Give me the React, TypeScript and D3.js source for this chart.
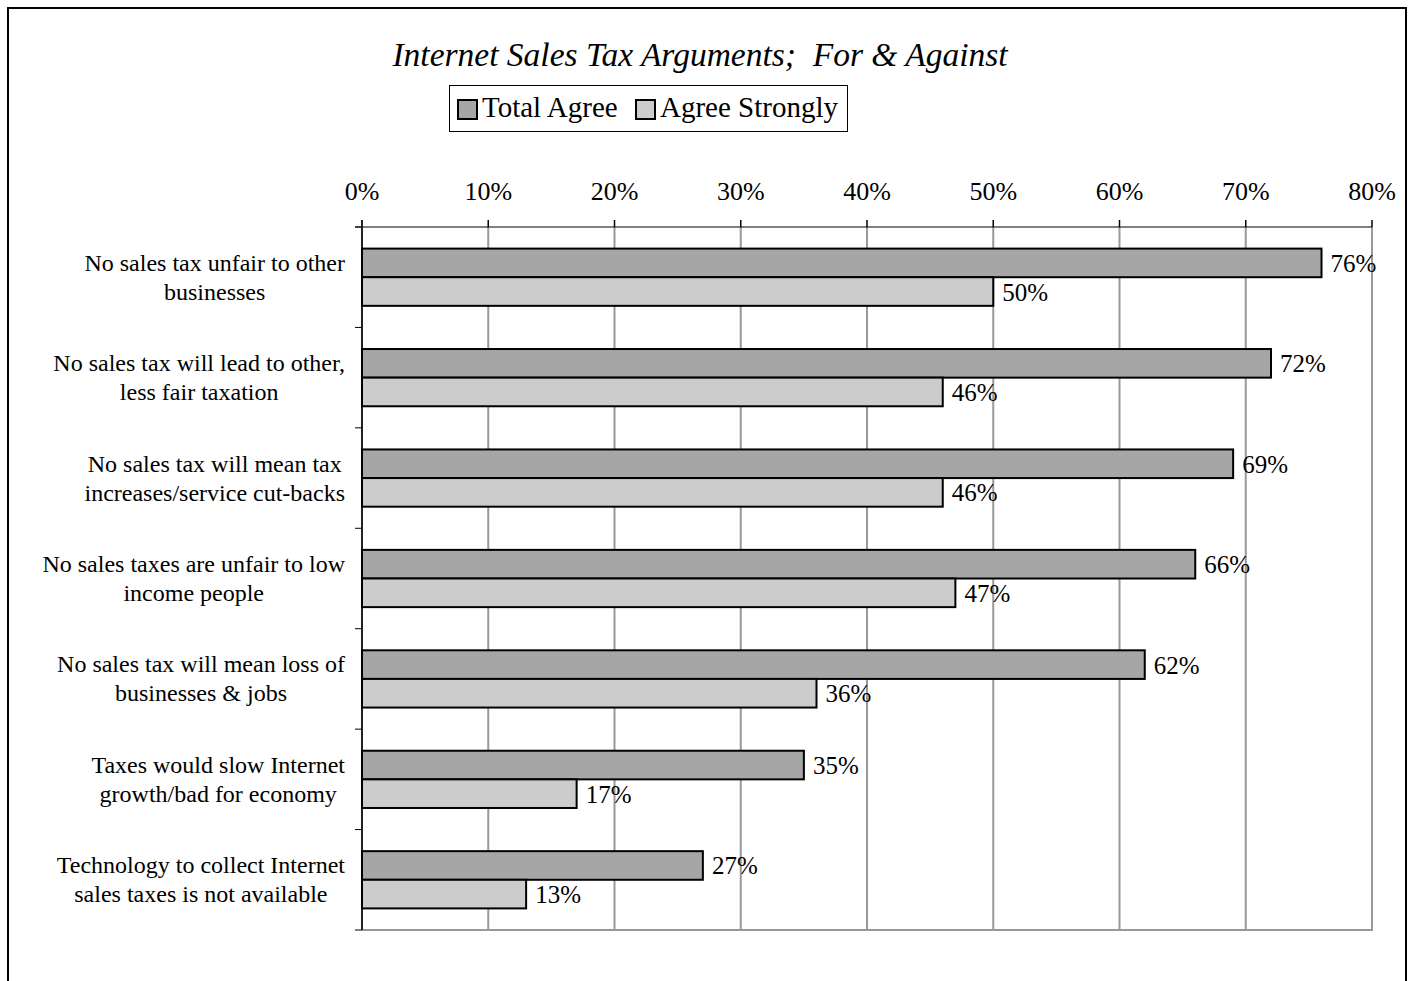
import React from "react";
import * as d3 from "d3";

const categories: string[][] = [
  ["No sales tax unfair to other", "businesses"],
  ["No sales tax will lead to other,", "less fair taxation"],
  ["No sales tax will mean tax", "increases/service cut-backs"],
  ["No sales taxes are unfair to low", "income people"],
  ["No sales tax will mean loss of", "businesses & jobs"],
  ["Taxes would slow Internet", "growth/bad for economy"],
  ["Technology to collect Internet", "sales taxes is not available"],
];
const totalAgree = [76, 72, 69, 66, 62, 35, 27];
const agreeStrongly = [50, 46, 46, 47, 36, 17, 13];
const seriesNames = ["Total Agree", "Agree Strongly"];
const seriesColors = ["#a6a6a6", "#cccccc"];
const xTicks = [0, 10, 20, 30, 40, 50, 60, 70, 80];

const FONT = "'Liberation Serif', 'Times New Roman', serif";

function measure(text: string, size: number): number {
  const c = document.createElement("canvas").getContext("2d");
  if (!c) return text.length * size * 0.45;
  c.font = `${size}px 'Liberation Serif'`;
  return c.measureText(text).width;
}

export default function App() {
  const left = 362, right = 1372, top = 227, bottom = 930;
  const x = d3.scaleLinear().domain([0, 80]).range([left, right]);
  const idx = categories.map((_, i) => i);
  const y0 = d3.scaleBand<number>().domain(idx).range([top, bottom]).paddingInner(0.43).paddingOuter(0.215);
  const y1 = d3.scaleBand<number>().domain([0, 1]).range([0, y0.bandwidth()]);
  const series = [totalAgree, agreeStrongly];
  const boundaries = d3.range(categories.length + 1).map((i) => top + (i * (bottom - top)) / categories.length);
  const catSize = 24;
  const lineH = 29;
  return (
    <svg width={1414} height={981} style={{ position: "fixed", left: 0, top: 0 }} fontFamily={FONT}>
      <rect x={0} y={0} width={1414} height={981} fill="#fff" />
      <path d="M8,990 L8,8 L1406,8 L1406,990" fill="none" stroke="#000" strokeWidth={2} />
      <text x={700} y={66} textAnchor="middle" fontSize={33.5} fontStyle="italic" style={{ whiteSpace: "pre" }}>
        {"Internet Sales Tax Arguments;  For & Against"}
      </text>
      {/* legend */}
      <rect x={449.5} y={85.5} width={398} height={46} fill="#fff" stroke="#000" strokeWidth={1} />
      {seriesNames.map((n, i) => {
        const sx = i === 0 ? 458 : 636;
        return (
          <g key={n}>
            <rect x={sx} y={100} width={19} height={19} fill={seriesColors[i]} stroke="#000" strokeWidth={2} />
            <text x={sx + 24} y={117} fontSize={29}>{n}</text>
          </g>
        );
      })}
      {/* gridlines */}
      {xTicks.slice(1).map((t) => (
        <line key={t} x1={x(t)} x2={x(t)} y1={top} y2={bottom} stroke="#999" strokeWidth={2} />
      ))}
      <line x1={left} x2={right + 1} y1={bottom} y2={bottom} stroke="#999" strokeWidth={2} />
      {/* top axis */}
      <line x1={left - 7} x2={right} y1={top} y2={top} stroke="#000" strokeWidth={1} />
      {xTicks.map((t) => (
        <g key={t}>
          <line x1={x(t)} x2={x(t)} y1={top - 7} y2={top} stroke="#000" strokeWidth={1.5} />
          <text x={x(t)} y={200} textAnchor="middle" fontSize={26}>{t}%</text>
        </g>
      ))}
      {/* left axis */}
      <line x1={left} x2={left} y1={top - 7} y2={bottom} stroke="#222" strokeWidth={2} />
      {boundaries.map((b, i) => (
        <line key={i} x1={left - 7} x2={left} y1={b} y2={b} stroke="#000" strokeWidth={1} />
      ))}
      {/* bars */}
      {idx.map((i) =>
        series.map((s, k) => {
          const by = (y0(i) ?? 0) + (y1(k) ?? 0);
          const h = y1.bandwidth();
          return (
            <g key={`${i}-${k}`}>
              <rect x={x(0)} y={by} width={x(s[i]) - x(0)} height={h} fill={seriesColors[k]} stroke="#000" strokeWidth={2} />
              <text x={x(s[i]) + 9} y={by + h / 2 + 9} fontSize={25}>{s[i]}%</text>
            </g>
          );
        })
      )}
      {/* category labels */}
      {categories.map((lines, i) => {
        const w = Math.max(...lines.map((l) => measure(l, catSize)));
        const cx = 345 - w / 2;
        const cy = (boundaries[i] + boundaries[i + 1]) / 2;
        return (
          <text key={i} textAnchor="middle" fontSize={catSize}>
            {lines.map((l, j) => (
              <tspan key={j} x={cx} y={cy + (j - (lines.length - 1) / 2) * lineH + 8}>{l}</tspan>
            ))}
          </text>
        );
      })}
    </svg>
  );
}
